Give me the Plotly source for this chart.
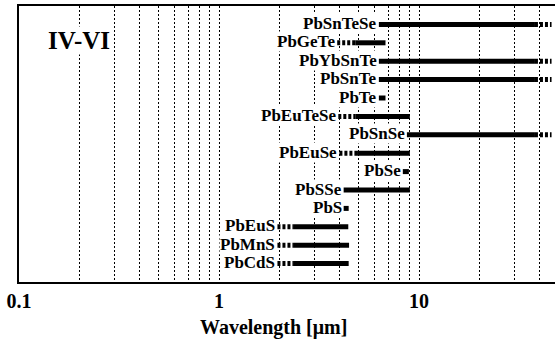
import math
import plotly.graph_objects as go

materials = ["PbSnTeSe", "PbGeTe", "PbYbSnTe", "PbSnTe", "PbTe", "PbEuTeSe", "PbSnSe",
             "PbEuSe", "PbSe", "PbSSe", "PbS", "PbEuS", "PbMnS", "PbCdS"]
# dotted (extended) range before the solid part; None if absent
dot_start = [None, 3.9, None, None, None, 3.95, None, 4.0, None, None, None, 1.96, 1.96, 1.96]
solid_start = [6.3, 4.8, 6.3, 6.3, 6.3, 4.8, 8.7, 4.9, 8.3, 4.2, 4.2, 2.37, 2.37, 2.37]
solid_end = [38, 6.8, 38, 38, 6.8, 9.0, 38, 9.0, 8.9, 9.0, 4.45, 4.43, 4.47, 4.45]
# dotted (extended) range after the solid part; None if absent
dot_end = [46, None, 46, 46, None, None, 46, None, None, None, None, None, None, None]

major_ticks = [0.1, 1, 10]
major_text = ["0.1", "1", "10"]
minor_ticks = [0.2, 0.3, 0.4, 0.5, 0.6, 0.7, 0.8, 0.9,
               2, 3, 4, 5, 6, 7, 8, 9, 20, 30, 40]

SERIF = "Liberation Serif"
fig = go.Figure()

for i, name in enumerate(materials):
    if dot_start[i] is not None:
        fig.add_trace(go.Scatter(x=[dot_start[i], solid_start[i]], y=[i, i], mode="lines",
                                 line=dict(color="black", width=5, dash="3px,2px"),
                                 hoverinfo="skip", showlegend=False))
    fig.add_trace(go.Scatter(x=[solid_start[i], solid_end[i]], y=[i, i], mode="lines",
                             line=dict(color="black", width=5),
                             hoverinfo="skip", showlegend=False))
    if dot_end[i] is not None:
        fig.add_trace(go.Scatter(x=[solid_end[i], dot_end[i]], y=[i, i], mode="lines",
                                 line=dict(color="black", width=5, dash="3px,2px"),
                                 hoverinfo="skip", showlegend=False))
    left = dot_start[i] if dot_start[i] is not None else solid_start[i]
    fig.add_annotation(x=math.log10(left), y=i, xref="x", yref="y", text=name,
                       showarrow=False, xanchor="right", yanchor="middle", xshift=-1,
                       yshift=1, bgcolor="white", borderpad=0,
                       font=dict(family=SERIF, size=17, color="black", weight="bold"))

fig.add_annotation(x=0.112, y=0.875, xref="paper", yref="paper", text="IV-VI",
                   showarrow=False, xanchor="center", yanchor="middle",
                   bgcolor="white", borderpad=0,
                   font=dict(family=SERIF, size=25, color="black", weight="bold"))

fig.add_annotation(x=0.475, y=-0.165, xref="paper", yref="paper", text="Wavelength [μm]",
                   showarrow=False, xanchor="center", yanchor="middle",
                   font=dict(family=SERIF, size=20, color="black", weight="bold"))

fig.update_xaxes(type="log", range=[-1, 1.68], tickvals=major_ticks, ticktext=major_text,
                 showgrid=True, gridcolor="black", gridwidth=1, griddash="2px,2px",
                 minor=dict(tickvals=minor_ticks, showgrid=True, gridcolor="black",
                            gridwidth=1, griddash="2px,2px"),
                 showline=True, linecolor="black", linewidth=2, mirror=True,
                 ticks="", zeroline=False,
                 tickfont=dict(family=SERIF, size=20, color="black", weight="bold"))
fig.update_yaxes(range=[14, -1], showticklabels=False, showgrid=False, zeroline=False,
                 showline=True, linecolor="black", linewidth=2, ticks="")

fig.update_layout(width=555, height=347, margin=dict(l=19, r=0, t=6, b=65),
                  paper_bgcolor="white", plot_bgcolor="white", showlegend=False)

fig.write_html("out.html")
